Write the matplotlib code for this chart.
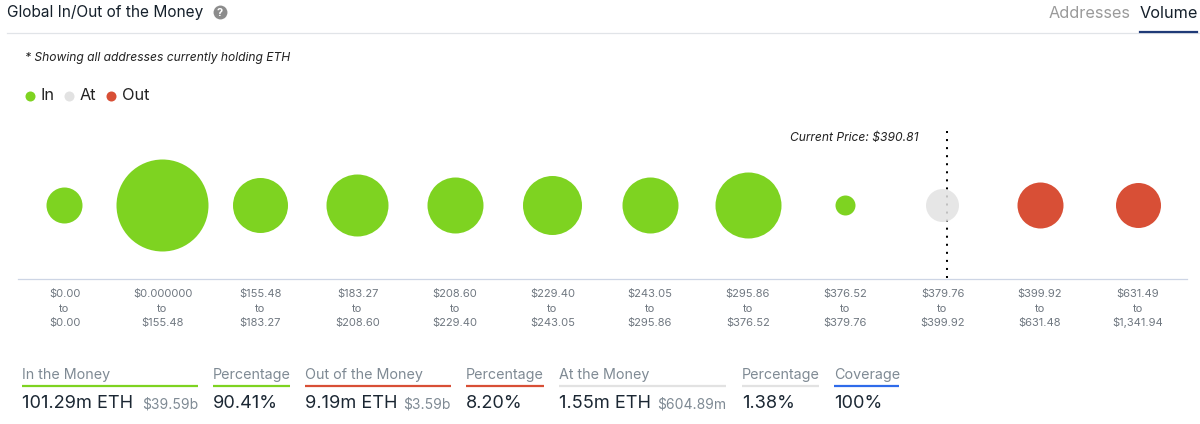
##Grafico de burbujas de direcciones dentro y fuera del dinero
##para los rangos de precio de ETH.
import matplotlib.pyplot as plt

plt.rcParams["font.family"] = ["Inter", "DejaVu Sans"]

#Colores de cada grupo
verde = "#7ED321"
gris = "#E2E2E2"
rojo = "#D84F36"
azul = "#2F6BEA"
texto_gris = "#7F8A94"
texto_oscuro = "#1B2733"

#Rangos de precio y diametro de cada burbuja
desde = ["$0.00", "$0.000000", "$155.48", "$183.27", "$208.60", "$229.40",
         "$243.05", "$295.86", "$376.52", "$379.76", "$399.92", "$631.49"]
hasta = ["$0.00", "$155.48", "$183.27", "$208.60", "$229.40", "$243.05",
         "$295.86", "$376.52", "$379.76", "$399.92", "$631.48", "$1,341.94"]
diametros = [36, 92, 55, 62, 56, 59, 56, 66, 20, 33, 46, 45]
colores = [verde]*9 + [gris] + [rojo]*2
posiciones = [64, 162, 259.5, 357, 454.5, 552, 649.5, 747.5, 844.5, 942, 1039.5, 1137.5]

#Creamos la figura con un eje medido en pixeles
plt.figure(figsize=(12,4.24), dpi=100)
plt.axes([0,0,1,1])
plt.xlim(0,1200)
plt.ylim(424,0)
plt.axis("off")

#Encabezado
plt.text(7, 12.5, "Global In/Out of the Money", fontsize=11.1, color="#15202B", va="center")
plt.scatter([220], [12], s=100, color="#8C8C8C", linewidths=0)
plt.text(220, 12.5, "?", fontsize=8, color="white", weight="bold", ha="center", va="center")
plt.text(1049, 13, "Addresses", fontsize=11.7, color="#9A9A9A", va="center")
plt.text(1140, 13, "Volume", fontsize=11.7, color="#15202B", va="center")
plt.plot([7,1200], [33,33], color="#E1E4E8", lw=0.9)
plt.plot([1140,1197], [31.5,31.5], color="#1F3A77", lw=1.6)

#Nota y leyenda
plt.text(25, 57.5, "* Showing all addresses currently holding ETH", fontsize=8.7, style="italic", color="#222222", va="center")
for x_punto, x_texto, color, nombre in [(30, 40, verde, "In"), (69, 80, gris, "At"), (111, 122, rojo, "Out")]:
    plt.scatter([x_punto], [95.5], s=52, color=color, linewidths=0)
    plt.text(x_texto, 96, nombre, fontsize=11.8, color="#222222", va="center")

#Linea base y precio actual
plt.plot([18,1187], [279,279], color="#CDD5E5", lw=0.9)
plt.plot([947,947], [131,279], color="black", lw=1.45, linestyle=(0,(1,3)), zorder=1)
plt.text(790, 138, "Current Price: $390.81", fontsize=8.7, style="italic", color="#222222", va="center")

#Dibujamos las burbujas con sus rangos
for x, inicio, fin, d, color in zip(posiciones, desde, hasta, diametros, colores):
    #La burbuja gris deja ver la linea punteada
    transparencia = 0.85 if color == gris else 1
    plt.scatter([x], [205], s=(d*0.72)**2, color=color, alpha=transparencia, linewidths=0, zorder=2)
    plt.text(x+0.5, 294.5, inicio, fontsize=8, color="#6F7780", ha="center", va="center")
    plt.text(x+0.5, 309, "to", fontsize=8, color="#6F7780", ha="center", va="center")
    plt.text(x+0.5, 323, fin, fontsize=8, color="#6F7780", ha="center", va="center")

#Resumen inferior
resumen = [
    (22, 198, "In the Money", "101.29m ETH", "$39.59b", verde),
    (213, 290, "Percentage", "90.41%", "", verde),
    (305, 451, "Out of the Money", "9.19m ETH", "$3.59b", rojo),
    (466, 544, "Percentage", "8.20%", "", rojo),
    (559, 726, "At the Money", "1.55m ETH", "$604.89m", gris),
    (742, 819, "Percentage", "1.38%", "", gris),
    (834, 899, "Coverage", "100%", "", azul),
]
for inicio, fin, titulo, valor, dolares, color in resumen:
    plt.text(inicio, 374.5, titulo, fontsize=10.3, color=texto_gris, va="center")
    plt.plot([inicio,fin], [385.5,385.5], color=color, lw=1.6, solid_capstyle="butt")
    plt.text(inicio, 403, valor, fontsize=13.1, color=texto_oscuro, va="center")
    if dolares != "":
        plt.text(fin, 404, dolares, fontsize=10, color=texto_gris, ha="right", va="center")

#Guardamos la imagen
plt.savefig("out.png", dpi=100)
